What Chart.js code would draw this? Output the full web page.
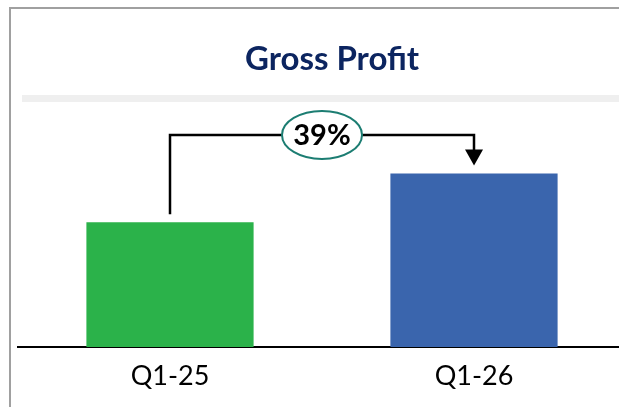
<!DOCTYPE html>
<html>
<head>
<meta charset="utf-8">
<script src="https://cdn.jsdelivr.net/npm/chart.js@4"></script>
<style>
html,body{margin:0;padding:0;background:#fff;overflow:hidden;width:619px;height:407px;}
canvas{display:block;}
</style>
</head>
<body>
<canvas id="c" width="626" height="407"></canvas>
<script>
const categories = ["Q1-25", "Q1-26"];
const grossProfit = [100, 139];
const barColors = ["#2bb24a", "#3a65ad"];
const titleText = "Gross Profit";
const growthLabel = "39%";
const bracketLevel = 170;

const deco = {
  id: 'deco',
  beforeDraw(chart) {
    const ctx = chart.ctx;
    ctx.save();
    ctx.fillStyle = '#fff';
    ctx.fillRect(0, 0, chart.width, chart.height);
    // border
    ctx.strokeStyle = '#a0a0a0';
    ctx.lineWidth = 2;
    ctx.beginPath();
    ctx.moveTo(10, 407);
    ctx.lineTo(10, 8);
    ctx.lineTo(chart.width, 8);
    ctx.stroke();
    // band
    ctx.fillStyle = '#efefef';
    ctx.fillRect(22, 95, chart.width - 22, 7);
    // title
    ctx.fillStyle = '#0c2560';
    ctx.font = 'bold 33px Lato, "Open Sans", sans-serif';
    ctx.textAlign = 'center';
    ctx.textBaseline = 'alphabetic';
    ctx.fillText(titleText, 332, 70);
    ctx.restore();
  },
  afterDatasetsDraw(chart) {
    const ctx = chart.ctx;
    const xs = chart.scales.x, ys = chart.scales.y;
    const x0 = xs.getPixelForValue(0), x1 = xs.getPixelForValue(1);
    const y0 = ys.getPixelForValue(grossProfit[0]) - 8;
    const y1 = ys.getPixelForValue(grossProfit[1]) - 8;
    const yb = ys.getPixelForValue(bracketLevel);
    ctx.save();
    ctx.strokeStyle = '#000';
    ctx.lineWidth = 2.5;
    ctx.beginPath();
    ctx.moveTo(x0, y0);
    ctx.lineTo(x0, yb);
    ctx.lineTo(x1, yb);
    ctx.lineTo(x1, y1 - 14);
    ctx.stroke();
    ctx.fillStyle = '#000';
    ctx.beginPath();
    ctx.moveTo(x1 - 9, y1 - 16);
    ctx.lineTo(x1 + 9, y1 - 16);
    ctx.lineTo(x1, y1);
    ctx.closePath();
    ctx.fill();
    // ellipse
    const cx = (x0 + x1) / 2;
    ctx.beginPath();
    ctx.ellipse(cx, yb, 40, 24, 0, 0, Math.PI * 2);
    ctx.fillStyle = '#fff';
    ctx.fill();
    ctx.strokeStyle = '#1c7d72';
    ctx.lineWidth = 2;
    ctx.stroke();
    ctx.fillStyle = '#000';
    ctx.font = 'bold 29px Lato, "Open Sans", sans-serif';
    ctx.textAlign = 'center';
    ctx.textBaseline = 'middle';
    ctx.fillText(growthLabel, cx, yb + 1);
    ctx.restore();
  }
};

new Chart(document.getElementById('c'), {
  type: 'bar',
  data: {
    labels: categories,
    datasets: [{
      data: grossProfit,
      backgroundColor: barColors,
      borderWidth: 0,
      barPercentage: 0.55,
      categoryPercentage: 1.0
    }]
  },
  options: {
    responsive: false,
    animation: false,
    devicePixelRatio: 1,
    layout: { padding: { left: 18, right: 0, top: 110, bottom: 0 } },
    plugins: { legend: { display: false }, tooltip: { enabled: false }, title: { display: false } },
    scales: {
      x: {
        grid: { display: false, drawTicks: false },
        border: { display: true, color: '#000', width: 2 },
        ticks: { color: '#000', font: { family: 'Lato, "Open Sans", sans-serif', size: 27 }, padding: 13 },
        afterFit(s) { s.height = 60; }
      },
      y: {
        display: false,
        min: 0,
        max: 190
      }
    }
  },
  plugins: [deco]
});
</script>
</body>
</html>
